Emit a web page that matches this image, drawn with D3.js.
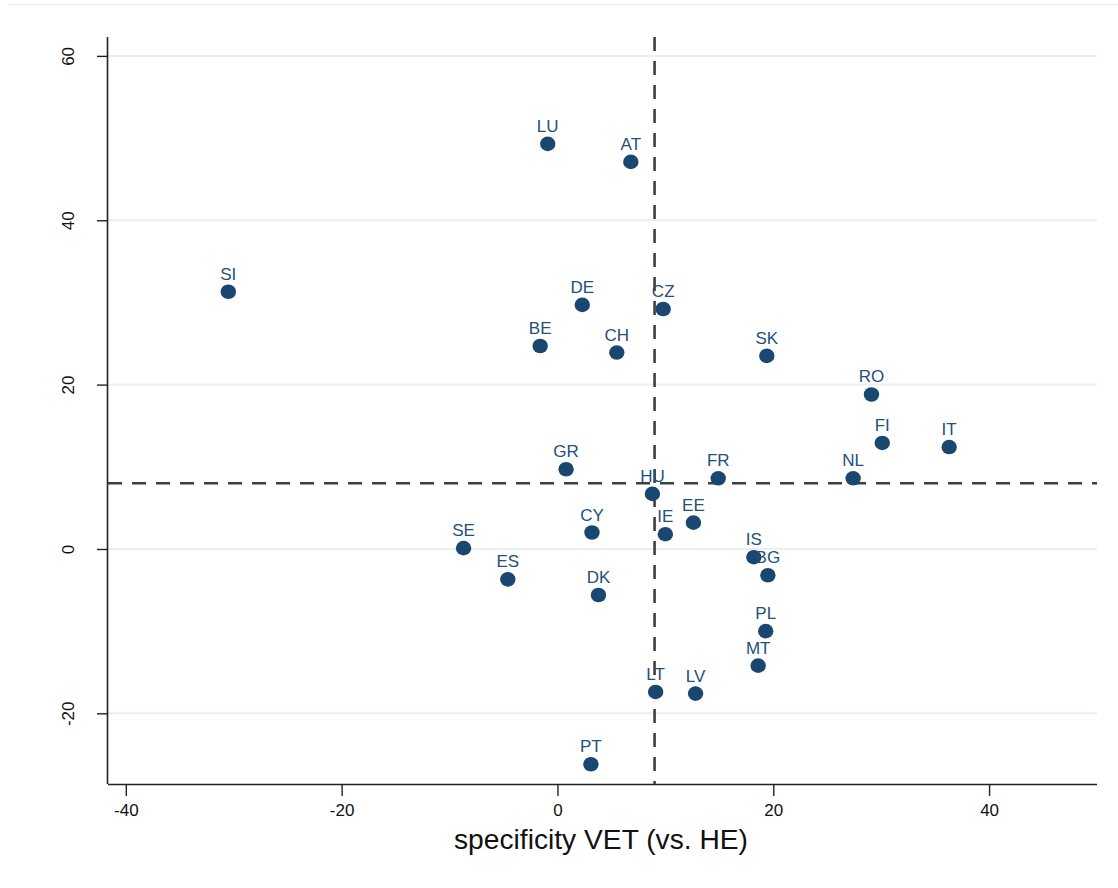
<!DOCTYPE html>
<html>
<head>
<meta charset="utf-8">
<script src="https://cdn.jsdelivr.net/npm/d3@7"></script>
<style>
  html, body { margin: 0; padding: 0; background: #ffffff; }
  svg { display: block; font-family: "Liberation Sans", Arial, Helvetica, sans-serif; }
</style>
</head>
<body>
<svg id="chart" width="1118" height="888"></svg>
<script>
// ---- Data ----
const countries = ["SI","LU","AT","DE","CZ","BE","CH","SK","RO","FI","IT","GR","FR","NL","HU","EE","CY","IE","SE","IS","ES","BG","DK","PL","MT","LT","LV","PT"];
const xValues   = [-30.5,-0.9,6.8,2.3,9.8,-1.6,5.5,19.4,29.1,30.1,36.3,0.8,14.9,27.4,8.8,12.6,3.2,10.0,-8.7,18.2,-4.6,19.5,3.8,19.3,18.6,9.1,12.8,3.1];
const yValues   = [31.3,49.3,47.1,29.7,29.2,24.7,23.9,23.5,18.8,12.9,12.4,9.7,8.6,8.6,6.7,3.2,2.0,1.8,0.1,-1.0,-3.7,-3.2,-5.6,-10.0,-14.2,-17.4,-17.6,-26.2];
const xTicks = [-40,-20,0,20,40];
const yTicks = [-20,0,20,40,60];
const xRef = 9.0;   // vertical reference line
const yRef = 8.0;   // horizontal reference line
const xTitle = "specificity VET (vs. HE)";

// ---- Layout ----
const svg = d3.select("#chart");
const pLeft = 108, pRight = 1097, pTop = 37, pBottom = 784;
const x = d3.scaleLinear().domain([-41.65, 50.0]).range([pLeft, pRight]);
const y = d3.scaleLinear().domain([-28.6, 62.3]).range([pBottom, pTop]);

const navy = "#1a476f";
const fmt = d => String(d);

// faint outer border line at top
svg.append("line")
  .attr("x1", 8).attr("x2", 1118).attr("y1", 4.5).attr("y2", 4.5)
  .attr("stroke", "#eef4f6").attr("stroke-width", 1.5);

// gridlines
svg.append("g").selectAll("line").data(yTicks).join("line")
  .attr("x1", pLeft).attr("x2", pRight)
  .attr("y1", d => y(d)).attr("y2", d => y(d))
  .attr("stroke", "#e8f0f2").attr("stroke-width", 2);

// axes
const xAxis = d3.axisBottom(x).tickValues(xTicks).tickSize(12).tickPadding(8).tickFormat(fmt);
const gx = svg.append("g").attr("transform", `translate(0,${pBottom})`).call(xAxis);
gx.select(".domain").attr("d", `M${pLeft},0.5H${pRight}`).attr("stroke", "#222").attr("stroke-width", 1.6);
gx.selectAll(".tick line").attr("stroke", "#222").attr("stroke-width", 1.4);
gx.selectAll(".tick text").attr("font-size", 17).attr("fill", "#111")
  .attr("font-family", "'Liberation Sans', Arial, sans-serif");

const yAxis = d3.axisLeft(y).tickValues(yTicks).tickSize(11).tickPadding(0).tickFormat(fmt);
const gy = svg.append("g").attr("transform", `translate(${pLeft},0)`).call(yAxis);
gy.select(".domain").attr("d", `M-0.5,${pTop}V${pBottom}`).attr("stroke", "#222").attr("stroke-width", 1.6);
gy.selectAll(".tick line").attr("stroke", "#222").attr("stroke-width", 1.4);
gy.selectAll(".tick text")
  .attr("font-size", 17).attr("fill", "#111")
  .attr("font-family", "'Liberation Sans', Arial, sans-serif")
  .attr("x", null).attr("dy", null)
  .attr("text-anchor", "middle")
  .attr("transform", "translate(-34,0) rotate(-90)");

// reference lines
svg.append("line")
  .attr("x1", pLeft).attr("x2", pRight)
  .attr("y1", y(yRef)).attr("y2", y(yRef))
  .attr("stroke", "#3f3f3f").attr("stroke-width", 2.6).attr("stroke-dasharray", "14,10");
svg.append("line")
  .attr("x1", x(xRef)).attr("x2", x(xRef))
  .attr("y1", pTop).attr("y2", pBottom)
  .attr("stroke", "#3f3f3f").attr("stroke-width", 2.6).attr("stroke-dasharray", "14,10");

// points
const pts = countries.map((c, i) => ({c, x: xValues[i], y: yValues[i]}));
svg.append("g").selectAll("ellipse").data(pts).join("ellipse")
  .attr("cx", d => x(d.x)).attr("cy", d => y(d.y))
  .attr("rx", 7.7).attr("ry", 7.3)
  .attr("fill", navy);

svg.append("g").selectAll("text").data(pts).join("text")
  .attr("x", d => x(d.x)).attr("y", d => y(d.y) - 12)
  .attr("text-anchor", "middle")
  .attr("font-size", 17)
  .attr("fill", "#24507a")
  .text(d => d.c);

// axis title
svg.append("text")
  .attr("x", (454 + 748) / 2).attr("y", 849)
  .attr("text-anchor", "middle")
  .attr("font-size", 27.5).attr("fill", "#111")
  .attr("textLength", 294).attr("lengthAdjust", "spacingAndGlyphs")
  .text(xTitle);
</script>
</body>
</html>
